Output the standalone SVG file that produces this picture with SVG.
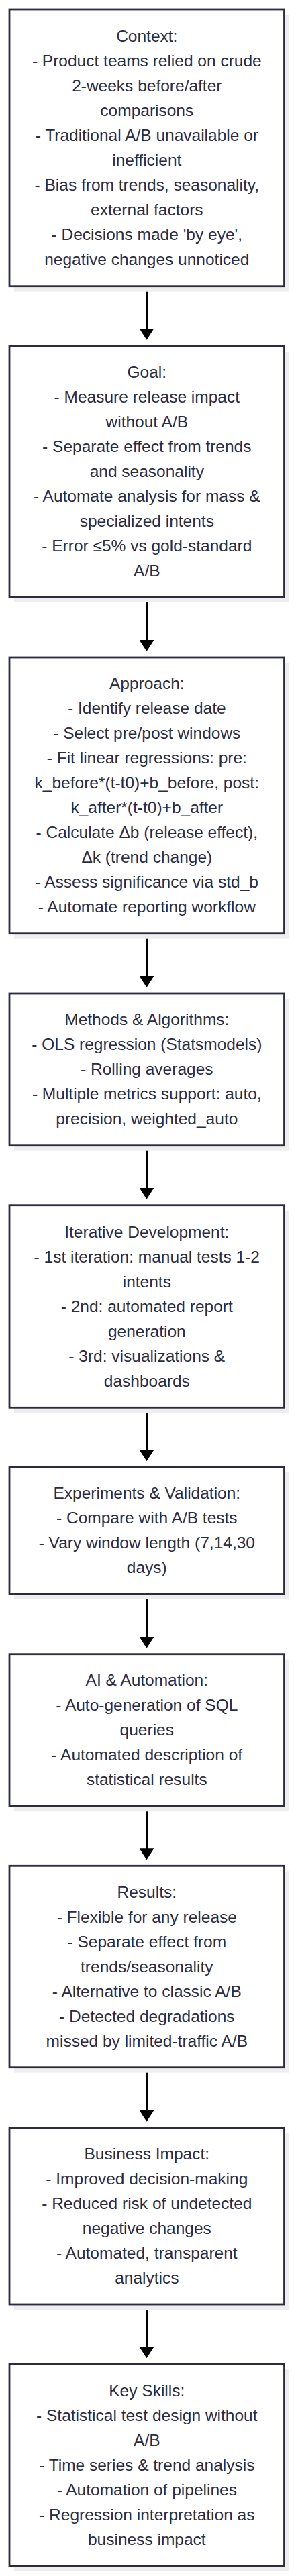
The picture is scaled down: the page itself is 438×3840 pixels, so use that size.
<svg xmlns="http://www.w3.org/2000/svg" width="438" height="3840" viewBox="0 0 438 3840">
<style>
.shadow{fill:#eeeeee;stroke:none}
.box{fill:#ffffff;stroke:#2c2c40;stroke-width:2.8}
.lbl{font-family:"Liberation Sans",Arial,sans-serif;font-size:24.5px;fill:#2c2c40;text-anchor:middle}
.edge{fill:none;stroke:#000000;stroke-width:3}
</style>
<defs>
<marker id="ah" markerUnits="userSpaceOnUse" viewBox="0 0 17 22" refX="7" refY="11" markerWidth="17" markerHeight="22" orient="auto">
<path d="M0,0 L17,11 L0,22 z" fill="#000000"/>
</marker>
</defs>
<rect width="438" height="3840" fill="#ffffff"/>
<g id="connectors">
<path class="edge" d="M218.5,428 V496.8" marker-end="url(#ah)"/>
<path class="edge" d="M218.5,891.5 V961" marker-end="url(#ah)"/>
<path class="edge" d="M218.5,1393.2 V1462" marker-end="url(#ah)"/>
<path class="edge" d="M218.5,1709.2 V1777.7" marker-end="url(#ah)"/>
<path class="edge" d="M218.5,2099.8 V2168.2" marker-end="url(#ah)"/>
<path class="edge" d="M218.5,2377.3 V2446.7" marker-end="url(#ah)"/>
<path class="edge" d="M218.5,2693.8 V2762.3" marker-end="url(#ah)"/>
<path class="edge" d="M218.5,3083.2 V3152.7" marker-end="url(#ah)"/>
<path class="edge" d="M218.5,3436.5 V3505.2" marker-end="url(#ah)"/>
</g>
<g id="context">
<rect class="shadow" x="21" y="22" width="409.5" height="412.7"/>
<rect class="box" x="14" y="14" width="409.5" height="412.7"/>
<text class="lbl" x="218.8" y="61.9">Context:<tspan x="218.8" dy="37">- Product teams relied on crude</tspan><tspan x="218.8" dy="37">2-weeks before/after</tspan><tspan x="218.8" dy="37">comparisons</tspan><tspan x="218.8" dy="37">- Traditional A/B unavailable or</tspan><tspan x="218.8" dy="37">inefficient</tspan><tspan x="218.8" dy="37">- Bias from trends, seasonality,</tspan><tspan x="218.8" dy="37">external factors</tspan><tspan x="218.8" dy="37">- Decisions made 'by eye',</tspan><tspan x="218.8" dy="37">negative changes unnoticed</tspan></text>
</g>
<g id="goal">
<rect class="shadow" x="21" y="523.8" width="409.5" height="374.2"/>
<rect class="box" x="14" y="515.8" width="409.5" height="374.2"/>
<text class="lbl" x="218.8" y="562.9">Goal:<tspan x="218.8" dy="37">- Measure release impact</tspan><tspan x="218.8" dy="37">without A/B</tspan><tspan x="218.8" dy="37">- Separate effect from trends</tspan><tspan x="218.8" dy="37">and seasonality</tspan><tspan x="218.8" dy="37">- Automate analysis for mass &amp;</tspan><tspan x="218.8" dy="37">specialized intents</tspan><tspan x="218.8" dy="37">- Error ≤5% vs gold-standard</tspan><tspan x="218.8" dy="37">A/B</tspan></text>
</g>
<g id="approach">
<rect class="shadow" x="21" y="988" width="409.5" height="411.7"/>
<rect class="box" x="14" y="980" width="409.5" height="411.7"/>
<text class="lbl" x="218.8" y="1027.4">Approach:<tspan x="218.8" dy="37">- Identify release date</tspan><tspan x="218.8" dy="37">- Select pre/post windows</tspan><tspan x="218.8" dy="37">- Fit linear regressions: pre:</tspan><tspan x="218.8" dy="37">k_before*(t-t0)+b_before, post:</tspan><tspan x="218.8" dy="37">k_after*(t-t0)+b_after</tspan><tspan x="218.8" dy="37">- Calculate Δb (release effect),</tspan><tspan x="218.8" dy="37">Δk (trend change)</tspan><tspan x="218.8" dy="37">- Assess significance via std_b</tspan><tspan x="218.8" dy="37">- Automate reporting workflow</tspan></text>
</g>
<g id="methods">
<rect class="shadow" x="21" y="1489" width="409.5" height="226.7"/>
<rect class="box" x="14" y="1481" width="409.5" height="226.7"/>
<text class="lbl" x="218.8" y="1528.4">Methods &amp; Algorithms:<tspan x="218.8" dy="37">- OLS regression (Statsmodels)</tspan><tspan x="218.8" dy="37">- Rolling averages</tspan><tspan x="218.8" dy="37">- Multiple metrics support: auto,</tspan><tspan x="218.8" dy="37">precision, weighted_auto</tspan></text>
</g>
<g id="iterative">
<rect class="shadow" x="21" y="1804.7" width="409.5" height="301.6"/>
<rect class="box" x="14" y="1796.7" width="409.5" height="301.6"/>
<text class="lbl" x="218.8" y="1844.5">Iterative Development:<tspan x="218.8" dy="37">- 1st iteration: manual tests 1-2</tspan><tspan x="218.8" dy="37">intents</tspan><tspan x="218.8" dy="37">- 2nd: automated report</tspan><tspan x="218.8" dy="37">generation</tspan><tspan x="218.8" dy="37">- 3rd: visualizations &amp;</tspan><tspan x="218.8" dy="37">dashboards</tspan></text>
</g>
<g id="experiments">
<rect class="shadow" x="21" y="2195.2" width="409.5" height="188.6"/>
<rect class="box" x="14" y="2187.2" width="409.5" height="188.6"/>
<text class="lbl" x="218.8" y="2234">Experiments &amp; Validation:<tspan x="218.8" dy="37">- Compare with A/B tests</tspan><tspan x="218.8" dy="37">- Vary window length (7,14,30</tspan><tspan x="218.8" dy="37">days)</tspan></text>
</g>
<g id="ai">
<rect class="shadow" x="21" y="2473.7" width="409.5" height="226.6"/>
<rect class="box" x="14" y="2465.7" width="409.5" height="226.6"/>
<text class="lbl" x="218.8" y="2513">AI &amp; Automation:<tspan x="218.8" dy="37">- Auto-generation of SQL</tspan><tspan x="218.8" dy="37">queries</tspan><tspan x="218.8" dy="37">- Automated description of</tspan><tspan x="218.8" dy="37">statistical results</tspan></text>
</g>
<g id="results">
<rect class="shadow" x="21" y="2789.3" width="409.5" height="300.4"/>
<rect class="box" x="14" y="2781.3" width="409.5" height="300.4"/>
<text class="lbl" x="218.8" y="2828.5">Results:<tspan x="218.8" dy="37">- Flexible for any release</tspan><tspan x="218.8" dy="37">- Separate effect from</tspan><tspan x="218.8" dy="37">trends/seasonality</tspan><tspan x="218.8" dy="37">- Alternative to classic A/B</tspan><tspan x="218.8" dy="37">- Detected degradations</tspan><tspan x="218.8" dy="37">missed by limited-traffic A/B</tspan></text>
</g>
<g id="impact">
<rect class="shadow" x="21" y="3179.7" width="409.5" height="263.3"/>
<rect class="box" x="14" y="3171.7" width="409.5" height="263.3"/>
<text class="lbl" x="218.8" y="3218.9">Business Impact:<tspan x="218.8" dy="37">- Improved decision-making</tspan><tspan x="218.8" dy="37">- Reduced risk of undetected</tspan><tspan x="218.8" dy="37">negative changes</tspan><tspan x="218.8" dy="37">- Automated, transparent</tspan><tspan x="218.8" dy="37">analytics</tspan></text>
</g>
<g id="skills">
<rect class="shadow" x="21" y="3532.2" width="409.5" height="300.8"/>
<rect class="box" x="14" y="3524.2" width="409.5" height="300.8"/>
<text class="lbl" x="218.8" y="3571.6">Key Skills:<tspan x="218.8" dy="37">- Statistical test design without</tspan><tspan x="218.8" dy="37">A/B</tspan><tspan x="218.8" dy="37">- Time series &amp; trend analysis</tspan><tspan x="218.8" dy="37">- Automation of pipelines</tspan><tspan x="218.8" dy="37">- Regression interpretation as</tspan><tspan x="218.8" dy="37">business impact</tspan></text>
</g>
</svg>
